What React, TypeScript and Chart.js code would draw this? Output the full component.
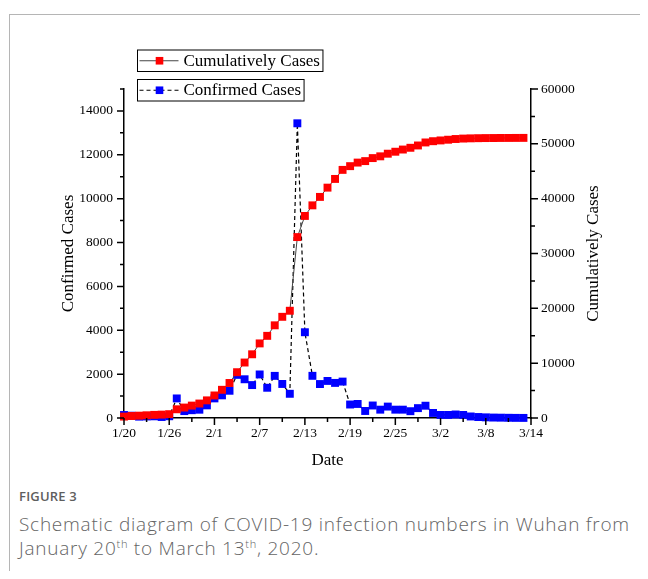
import React, { useEffect, useRef } from "react";
import { Chart, registerables } from "chart.js";

Chart.register(...registerables);

const dates = [
  "1/20", "1/21", "1/22", "1/23", "1/24", "1/25", "1/26", "1/27", "1/28", "1/29", "1/30", "1/31",
  "2/1", "2/2", "2/3", "2/4", "2/5", "2/6", "2/7", "2/8", "2/9", "2/10", "2/11", "2/12", "2/13", "2/14",
  "2/15", "2/16", "2/17", "2/18", "2/19", "2/20", "2/21", "2/22", "2/23", "2/24", "2/25", "2/26", "2/27",
  "2/28", "2/29",
  "3/1", "3/2", "3/3", "3/4", "3/5", "3/6", "3/7", "3/8", "3/9", "3/10", "3/11", "3/12", "3/13", "3/14",
];

const confirmedCases = [
  136, 105, 62, 70, 77, 46, 80, 892, 315, 356, 378, 576,
  894, 1033, 1242, 1967, 1766, 1501, 1985, 1379, 1921, 1552, 1104, 13436, 3910, 1923, 1548, 1690, 1600,
  1660, 615, 640, 320, 570, 380, 520, 380, 380, 310, 450, 560,
  230, 140, 140, 160, 140, 70, 45, 30, 20, 15, 10, 6, 4,
];

const cumulativeCases = [
  258, 363, 425, 495, 572, 618, 698, 1590, 1905, 2261, 2639, 3215,
  4109, 5142, 6384, 8351, 10117, 11618, 13603, 14982, 16902, 18454, 19558, 32994, 36850, 38780, 40320,
  42010, 43600, 45250, 45930, 46580, 46850, 47400, 47720, 48200, 48560, 48960, 49280, 49700, 50250,
  50480, 50620, 50750, 50880, 50960, 51000, 51030, 51050, 51060, 51070, 51075, 51080, 51085,
];

const seriesNames = ["Cumulatively Cases", "Confirmed Cases"];
const axisTitles = { x: "Date", left: "Confirmed Cases", right: "Cumulatively Cases" };
const leftTickValues = [0, 2000, 4000, 6000, 8000, 10000, 12000, 14000];
const rightTickValues = [0, 10000, 20000, 30000, 40000, 50000, 60000];
const leftAxis = { max: 15000, major: 2000, minor: 1000 };
const rightAxis = { max: 60000, major: 10000, minor: 5000 };

const SERIF = '"Liberation Serif", "Times New Roman", serif';

const decor = {
  id: "decor",
  afterDraw(chart: any) {
    const { ctx, chartArea: a, scales } = chart;
    const xs = scales.x;
    const yl = scales.y;
    const yr = scales.y1;
    ctx.save();
    ctx.strokeStyle = "#000";
    ctx.lineWidth = 1.5;
    ctx.beginPath();
    for (let i = 0; i < dates.length; i += 3) {
      const px = xs.getPixelForValue(i);
      const len = i % 6 === 0 ? 7 : 4;
      ctx.moveTo(px, a.bottom);
      ctx.lineTo(px, a.bottom + len);
    }
    for (let v = 0; v <= leftAxis.max; v += leftAxis.minor) {
      const py = yl.getPixelForValue(v);
      const len = v % leftAxis.major === 0 ? 7 : 4;
      ctx.moveTo(a.left, py);
      ctx.lineTo(a.left - len, py);
    }
    for (let v = 0; v <= rightAxis.max; v += rightAxis.minor) {
      const py = yr.getPixelForValue(v);
      const len = v % rightAxis.major === 0 ? 7 : 4;
      ctx.moveTo(a.right, py);
      ctx.lineTo(a.right + len, py);
    }
    ctx.stroke();

    // axis titles
    ctx.fillStyle = "#000";
    ctx.font = `17px ${SERIF}`;
    ctx.textAlign = "center";
    ctx.textBaseline = "middle";
    ctx.fillText(axisTitles.x, (a.left + a.right) / 2, 453);
    const cy = (a.top + a.bottom) / 2;
    ctx.save();
    ctx.translate(61, cy);
    ctx.rotate(-Math.PI / 2);
    ctx.fillText(axisTitles.left, 0, 0);
    ctx.restore();
    ctx.save();
    ctx.translate(586, cy);
    ctx.rotate(-Math.PI / 2);
    ctx.fillText(axisTitles.right, 0, 0);
    ctx.restore();

    // legend
    const tops = [42, 71.5];
    const boxLeft = 129.5;
    const h = 21.5;
    chart.data.datasets.forEach((ds: any, k: number) => {
      const top = tops[k];
      const tw = ctx.measureText(ds.label).width;
      const w = 46 + tw + 3;
      ctx.lineWidth = 1;
      ctx.setLineDash([]);
      ctx.strokeStyle = "#000";
      ctx.strokeRect(boxLeft, top, w, h);
      const my = top + h / 2;
      ctx.beginPath();
      ctx.strokeStyle = ds.borderColor;
      ctx.lineWidth = ds.borderWidth;
      ctx.setLineDash(ds.borderDash || []);
      ctx.moveTo(boxLeft + 2, my);
      ctx.lineTo(boxLeft + 41, my);
      ctx.stroke();
      ctx.setLineDash([]);
      ctx.fillStyle = ds.pointBackgroundColor;
      ctx.fillRect(boxLeft + 22 - 3.8, my - 3.8, 7.6, 7.6);
      ctx.fillStyle = "#000";
      ctx.textAlign = "left";
      ctx.textBaseline = "middle";
      ctx.fillText(ds.label, boxLeft + 46, my + 0.5);
    });
    ctx.restore();
  },
};

export default function App() {
  const ref = useRef<HTMLCanvasElement | null>(null);

  useEffect(() => {
    document.body.style.overflow = "hidden";
    const canvas = ref.current;
    if (!canvas) return;
    const tickFont = { family: SERIF, size: 13.5 };
    const chart = new Chart(canvas, {
      type: "line",
      data: {
        labels: dates,
        datasets: [
          {
            label: seriesNames[0],
            data: cumulativeCases,
            yAxisID: "y1",
            borderColor: "#444444",
            borderWidth: 1,
            pointStyle: "rect",
            pointRadius: 5.6,
            pointBackgroundColor: "#ff0000",
            pointBorderWidth: 0,
            clip: false,
          } as any,
          {
            label: seriesNames[1],
            data: confirmedCases,
            yAxisID: "y",
            borderColor: "#000000",
            borderWidth: 1.2,
            borderDash: [4, 3],
            pointStyle: "rect",
            pointRadius: 5.6,
            pointBackgroundColor: "#0000ff",
            pointBorderWidth: 0,
            clip: false,
          } as any,
        ],
      },
      options: {
        animation: false,
        responsive: false,
        maintainAspectRatio: false,
        layout: { padding: { top: 81, left: 0, right: 0, bottom: 0 } },
        plugins: { legend: { display: false }, tooltip: { enabled: false } },
        elements: { line: { tension: 0 } },
        scales: {
          x: {
            type: "category",
            offset: false,
            grid: { display: false, drawTicks: false },
            border: { display: true, color: "#000", width: 1.5 },
            ticks: {
              autoSkip: false,
              maxRotation: 0,
              minRotation: 0,
              padding: 7,
              color: "#000",
              font: tickFont,
              callback: (_v: any, i: number) => (i % 6 === 0 ? dates[i] : ""),
            },
            afterFit: (s: any) => {
              s.height = 60;
            },
          },
          y: {
            type: "linear",
            position: "left",
            min: 0,
            max: leftAxis.max,
            grid: { display: false, drawTicks: false },
            border: { display: true, color: "#000", width: 1.5 },
            ticks: { padding: 11, color: "#000", font: tickFont, callback: (v: any) => String(v) },
            afterBuildTicks: (s: any) => {
              s.ticks = leftTickValues.map((v) => ({ value: v }));
            },
            afterFit: (s: any) => {
              s.width = 116;
            },
          },
          y1: {
            type: "linear",
            position: "right",
            min: 0,
            max: rightAxis.max,
            grid: { display: false, drawTicks: false },
            border: { display: true, color: "#000", width: 1.5 },
            ticks: { padding: 10, color: "#000", font: tickFont, callback: (v: any) => String(v) },
            afterBuildTicks: (s: any) => {
              s.ticks = rightTickValues.map((v) => ({ value: v }));
            },
            afterFit: (s: any) => {
              s.width = 109;
            },
          },
        },
      } as any,
      plugins: [decor],
    });
    return () => chart.destroy();
  }, []);

  return (
    <div style={{ position: "relative", width: 632, height: 563 }}>
      <div
        style={{
          position: "absolute",
          left: 1,
          top: 6,
          width: 660,
          height: 570,
          borderLeft: "1px solid #b5b5b5",
          borderTop: "1px solid #b5b5b5",
        }}
      />
      <canvas ref={ref} width={632} height={470} style={{ position: "absolute", left: 0, top: 0, display: "block" }} />
      <div
        style={{
          position: "absolute",
          left: 11,
          top: 480,
          fontFamily: '"Open Sans", sans-serif',
          fontSize: 13,
          fontWeight: 600,
          lineHeight: "16px",
          color: "#5e5e5e",
          letterSpacing: 0.2,
        }}
      >
        FIGURE 3
      </div>
      <div
        style={{
          position: "absolute",
          left: 11,
          top: 504,
          width: 640,
          whiteSpace: "nowrap",
          fontFamily: '"Open Sans", sans-serif',
          fontSize: 19,
          fontWeight: 300,
          letterSpacing: 0.75,
          lineHeight: "24px",
          color: "#646464",
        }}
      >
        Schematic diagram of COVID-19 infection numbers in Wuhan from
        <br />
        January 20<sup style={{ fontSize: 11, lineHeight: 0 }}>th</sup> to March 13
        <sup style={{ fontSize: 11, lineHeight: 0 }}>th</sup>, 2020.
      </div>
    </div>
  );
}
